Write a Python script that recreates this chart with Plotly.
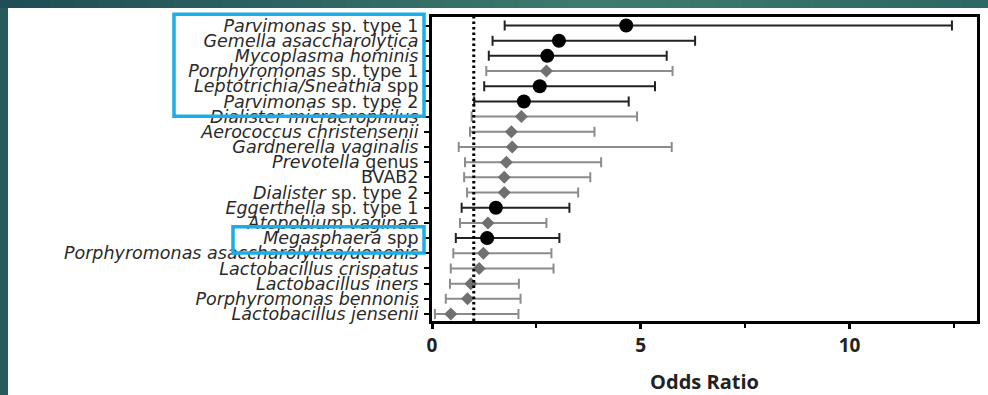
import plotly.graph_objects as go

# ---------------- data ----------------
labels = [
    "<i>Parvimonas</i> sp. type 1",
    "<i>Gemella asaccharolytica</i>",
    "<i>Mycoplasma hominis</i>",
    "<i>Porphyromonas</i> sp. type 1",
    "<i>Leptotrichia/Sneathia</i> spp",
    "<i>Parvimonas</i> sp. type 2",
    "<i>Dialister micraerophilus</i>",
    "<i>Aerococcus christensenii</i>",
    "<i>Gardnerella vaginalis</i>",
    "<i>Prevotella</i> genus",
    "BVAB2",
    "<i>Dialister</i> sp. type 2",
    "<i>Eggerthella</i> sp. type 1",
    "<i>Atopobium vaginae</i>",
    "<i>Megasphaera</i> spp",
    "<i>Porphyromonas asaccharolytica/uenonis</i>",
    "<i>Lactobacillus crispatus</i>",
    "<i>Lactobacillus iners</i>",
    "<i>Porphyromonas bennonis</i>",
    "<i>Lactobacillus jensenii</i>",
]
odds_ratio = [4.65, 3.04, 2.76, 2.74, 2.58, 2.20, 2.14, 1.90, 1.92, 1.78,
              1.73, 1.73, 1.53, 1.34, 1.32, 1.23, 1.13, 0.93, 0.85, 0.45]
ci_low = [1.74, 1.45, 1.36, 1.30, 1.25, 1.01, 0.95, 0.91, 0.64, 0.79,
          0.77, 0.84, 0.71, 0.67, 0.57, 0.51, 0.45, 0.43, 0.33, 0.07]
ci_high = [12.45, 6.30, 5.62, 5.76, 5.34, 4.71, 4.91, 3.89, 5.74, 4.05,
           3.79, 3.50, 3.29, 2.74, 3.05, 2.86, 2.91, 2.08, 2.12, 2.07]
significant = [True, True, True, False, True, True, False, False, False, False,
               False, False, True, False, True, False, False, False, False, False]
highlight_groups = [(0, 5), (14, 14)]   # rows boxed in blue
x_ticks = [0, 5, 10]

# ---------------- layout geometry ----------------
W, H = 988, 395
L, R, T, B = 432, 11, 17, 74
PW, PH = W - L - R, H - T - B
Y_RANGE = [len(labels) - 1 + 0.46, -0.56]

def px_x(p):
    return (p - L) / PW

def px_y(p):
    return (H - B - p) / PH

def row_y(r):
    return (Y_RANGE[0] - r) / (Y_RANGE[0] - Y_RANGE[1])

rows = list(range(len(labels)))

def subset(flag):
    idx = [i for i in rows if significant[i] == flag]
    return (idx,
            [odds_ratio[i] for i in idx],
            [ci_high[i] - odds_ratio[i] for i in idx],
            [odds_ratio[i] - ci_low[i] for i in idx])

fig = go.Figure()

gi, gx, gp, gm = subset(False)
fig.add_trace(go.Scatter(
    x=gx, y=gi, mode="markers",
    marker=dict(symbol="diamond", size=10, color="#707070"),
    error_x=dict(type="data", symmetric=False, array=gp, arrayminus=gm,
                 color="#8c8c8c", thickness=2, width=5),
    showlegend=False))

bi, bx, bp, bm = subset(True)
fig.add_trace(go.Scatter(
    x=bx, y=bi, mode="markers",
    marker=dict(symbol="circle", size=14, color="black"),
    error_x=dict(type="data", symmetric=False, array=bp, arrayminus=bm,
                 color="#222222", thickness=2, width=5),
    showlegend=False))

shapes = []
TEAL = "rgb(38,90,92)"
# left teal band
shapes.append(dict(type="rect", xref="paper", yref="paper",
                   x0=px_x(-2), x1=px_x(8), y0=px_y(H + 2), y1=px_y(-2),
                   fillcolor=TEAL, line=dict(width=0), layer="below"))
# top gradient band
stops = [(0, (31, 78, 86)), (600, (62, 124, 112)), (988, (44, 104, 100))]
n = 40
for k in range(n):
    xa = W * k / n
    xb = W * (k + 1) / n + 1
    xm = (xa + xb) / 2
    for (s0, c0), (s1, c1) in zip(stops[:-1], stops[1:]):
        if s0 <= xm <= s1:
            t = (xm - s0) / (s1 - s0)
            c = tuple(int(c0[j] + (c1[j] - c0[j]) * t) for j in range(3))
            break
    shapes.append(dict(type="rect", xref="paper", yref="paper",
                       x0=px_x(xa), x1=px_x(xb), y0=px_y(8), y1=px_y(-2),
                       fillcolor="rgb(%d,%d,%d)" % c, line=dict(width=0),
                       layer="below"))
# dotted reference line at OR = 1
shapes.append(dict(type="line", xref="x", yref="paper", x0=1, x1=1, y0=0, y1=1,
                   line=dict(color="black", width=3, dash="2.5px,3px")))
# blue highlight boxes
for (r0, r1), xl in zip(highlight_groups, [174, 233]):
    shapes.append(dict(type="rect", xref="paper", yref="paper",
                       x0=px_x(xl), x1=px_x(424),
                       y0=row_y(r1 + 0.98), y1=row_y(r0 - 0.74),
                       line=dict(color="#1aaee8", width=3.5),
                       fillcolor="rgba(0,0,0,0)"))

fig.update_layout(
    width=W, height=H,
    margin=dict(l=L, r=R, t=T, b=B, autoexpand=False),
    paper_bgcolor="white", plot_bgcolor="white",
    font=dict(family="DejaVu Sans", color="#222"),
    shapes=shapes,
)
fig.update_xaxes(
    range=[0, 13.05], tickvals=x_ticks, ticktext=[str(v) for v in x_ticks],
    ticks="outside", ticklen=5, tickwidth=3, tickcolor="black",
    minor=dict(tickvals=[2.5, 7.5, 12.5], ticks="outside", ticklen=4,
               tickwidth=2, tickcolor="black"),
    showline=True, linecolor="black", linewidth=3, mirror=True,
    showgrid=False, zeroline=False, automargin=False,
    tickfont=dict(family="Open Sans", size=19, color="#222", weight="bold"),
    ticklabelstandoff=0,
    title=dict(text="<b>Odds Ratio</b>",
               font=dict(family="Open Sans", size=20, color="#222"),
               standoff=22),
)
fig.update_yaxes(
    range=Y_RANGE, tickvals=rows, ticktext=labels,
    ticks="outside", ticklen=5, tickwidth=2, tickcolor="black",
    showline=True, linecolor="black", linewidth=3, mirror=True,
    showgrid=False, zeroline=False, automargin=False,
    tickfont=dict(family="DejaVu Sans", size=17.5, color="#2a2a2a"),
    ticklabelstandoff=2,
)

fig.write_html("out.html")
